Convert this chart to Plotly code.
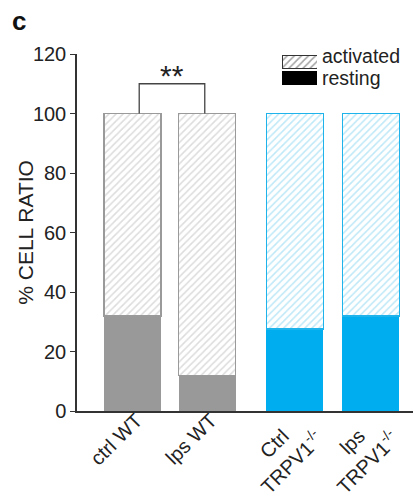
import plotly.graph_objects as go

# ---- data ----
NB = "\u00a0"
categories = ["ctrl WT", "lps WT",
              "Ctrl" + NB * 4 + "<br>TRPV1<sup>-/-</sup>",
              "lps" + NB * 4 + "<br>TRPV1<sup>-/-</sup>"]
positions = [0, 1, 2.18, 3.2]
resting = [32, 12, 27.5, 32]
activated = [100 - r for r in resting]
y_ticks = [0, 20, 40, 60, 80, 100, 120]
y_title = "% CELL RATIO"
legend_labels = ["activated", "resting"]

solid_colors = ["#999999", "#999999", "#00AEEF", "#00AEEF"]
hatch_colors = ["#b9b9b9", "#b9b9b9", "#7dd1f0", "#7dd1f0"]
edge_colors = ["#9a9a9a", "#9a9a9a", "#1fb3ec", "#1fb3ec"]

FONT = "Liberation Sans, Arial, sans-serif"
W, H = 414, 498
ML, MR, MT, MB = 77, 1, 54, 86.5
plot_w = W - ML - MR
plot_h = H - MT - MB

def px_x(px):
    return (px - ML) / plot_w

def px_y(py):
    return (H - MB - py) / plot_h

fig = go.Figure()

bar_w = 0.765
fig.add_trace(go.Bar(
    x=positions, y=resting, width=bar_w, name="resting",
    marker=dict(color=solid_colors, line=dict(color=solid_colors, width=0)),
    showlegend=False,
))
fig.add_trace(go.Bar(
    x=positions, y=activated, width=bar_w, name="activated",
    marker=dict(
        color="white",
        line=dict(color=edge_colors, width=1.5),
        pattern=dict(shape="/", fgcolor=hatch_colors, bgcolor="white", size=5, solidity=0.3),
    ),
    showlegend=False,
))

# legend swatches drawn as small bar subplot
fig.add_trace(go.Bar(
    x=[1, 1], y=[0, 1], orientation="h", width=0.8,
    marker=dict(
        color=["black", "white"],
        line=dict(color=["black", "#333333"], width=1),
        pattern=dict(shape=["", "/"], fgcolor=["black", "#777777"], bgcolor=["black", "white"], size=5, solidity=0.3),
    ),
    xaxis="x2", yaxis="y2", showlegend=False,
))

fig.update_layout(
    width=W, height=H,
    margin=dict(l=ML, r=MR, t=MT, b=MB, autoexpand=False),
    paper_bgcolor="white", plot_bgcolor="white",
    barmode="stack",
    font=dict(family=FONT, size=20, color="#222222"),
    xaxis=dict(
        range=[-0.745, 3.765],
        tickvals=positions, ticktext=categories, tickangle=-45,
        showline=True, linecolor="#333333", linewidth=1.5,
        ticks="", showgrid=False, zeroline=False, automargin=False,
        tickfont=dict(size=20, color="#222222"),
        ticklabelstandoff=-12, ticklabelshift=4,
    ),
    yaxis=dict(
        range=[0, 120], tickvals=y_ticks,
        showline=True, linecolor="#333333", linewidth=1.5,
        ticks="outside", ticklen=5, tickcolor="#333333", tickwidth=1.2,
        showgrid=False, zeroline=False, automargin=False,
        tickfont=dict(size=20, color="#222222"),
    ),
    xaxis2=dict(domain=[px_x(282), px_x(317)], anchor="y2", range=[0, 1],
                visible=False, fixedrange=True),
    yaxis2=dict(domain=[px_y(86), min(1.0, px_y(52))], anchor="x2", range=[-0.5, 1.5],
                visible=False, fixedrange=True),
)

# y-axis title
fig.add_annotation(x=px_x(26), y=px_y(233), xref="paper", yref="paper", text=y_title,
                   textangle=-90, showarrow=False, xanchor="center", yanchor="middle",
                   font=dict(size=21, color="#222222"))

# significance bracket
fig.add_shape(type="path", path="M 0.09,100 L 0.09,110 L 0.97,110 L 0.97,100",
              xref="x", yref="y", line=dict(color="#444444", width=1.3))
fig.add_annotation(x=0.53, y=112.8, xref="x", yref="y", text="**", showarrow=False,
                   font=dict(size=30, color="#222222"), yanchor="middle")

# legend labels
for name, py in zip(legend_labels, [56.5, 78.5]):
    fig.add_annotation(x=px_x(320), y=px_y(py), xref="paper", yref="paper", text=name,
                       showarrow=False, xanchor="left", yanchor="middle",
                       font=dict(size=19.5, color="#222222"))

# panel letter
fig.add_annotation(x=px_x(10), y=px_y(21), xref="paper", yref="paper", text="<b>c</b>",
                   showarrow=False, xanchor="left", yanchor="middle",
                   font=dict(size=26, color="#111111"))

fig.write_html("out.html", config={"displayModeBar": False},
               post_script="document.body.style.margin='0';document.body.style.overflow='hidden';")
